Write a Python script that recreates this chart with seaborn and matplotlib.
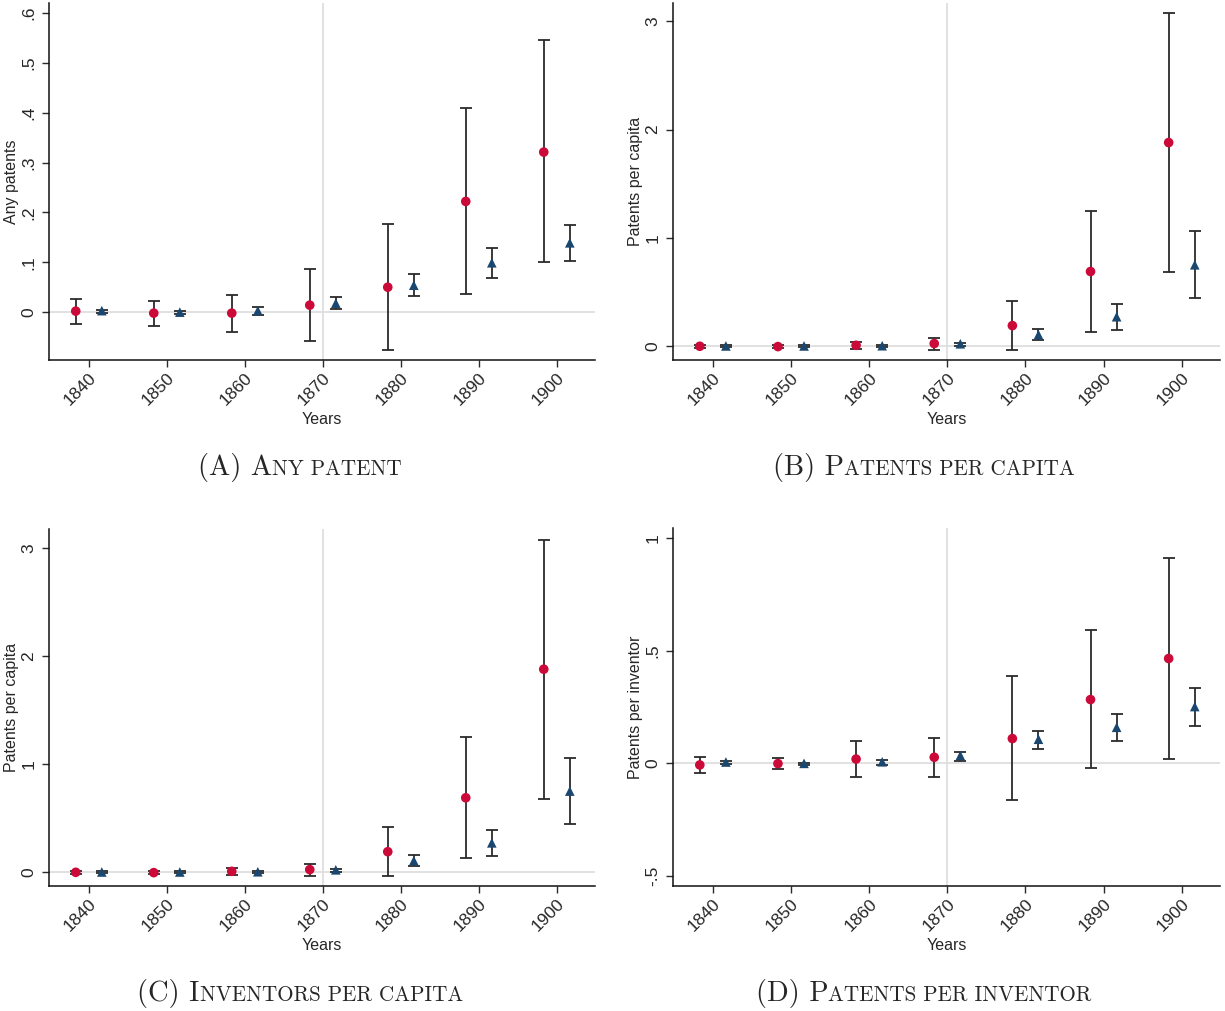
import numpy as np
import pandas as pd
import matplotlib
matplotlib.use("Agg")
import matplotlib.pyplot as plt
from matplotlib.ticker import FuncFormatter
import seaborn as sns

# ---------------- data ----------------
years = [1840, 1850, 1860, 1870, 1880, 1890, 1900]

A_red = [0.002, -0.002, -0.002, 0.014, 0.050, 0.222, 0.321]
A_red_lo = [-0.023, -0.027, -0.039, -0.057, -0.075, 0.036, 0.100]
A_red_hi = [0.027, 0.023, 0.035, 0.087, 0.177, 0.409, 0.545]
A_blue = [0.003, 0.000, 0.003, 0.018, 0.054, 0.099, 0.139]
A_blue_lo = [-0.002, -0.004, -0.005, 0.006, 0.032, 0.069, 0.103]
A_blue_hi = [0.005, 0.002, 0.011, 0.030, 0.077, 0.129, 0.175]

B_red = [-0.003, -0.006, 0.006, 0.022, 0.188, 0.688, 1.88]
B_red_lo = [-0.018, -0.020, -0.025, -0.034, -0.040, 0.127, 0.679]
B_red_hi = [0.012, 0.012, 0.034, 0.071, 0.417, 1.25, 3.08]
B_blue = [0.000, 0.000, 0.002, 0.020, 0.105, 0.270, 0.750]
B_blue_lo = [-0.006, -0.006, -0.008, 0.003, 0.052, 0.148, 0.444]
B_blue_hi = [0.006, 0.006, 0.006, 0.031, 0.160, 0.386, 1.06]

C_red = [-0.003, -0.006, 0.006, 0.022, 0.188, 0.688, 1.88]
C_red_lo = [-0.018, -0.020, -0.025, -0.034, -0.040, 0.127, 0.679]
C_red_hi = [0.012, 0.012, 0.034, 0.071, 0.417, 1.25, 3.08]
C_blue = [0.000, 0.000, 0.002, 0.020, 0.105, 0.270, 0.750]
C_blue_lo = [-0.006, -0.006, -0.008, 0.003, 0.052, 0.148, 0.444]
C_blue_hi = [0.006, 0.006, 0.006, 0.031, 0.160, 0.386, 1.06]

D_red = [-0.007, -0.001, 0.019, 0.027, 0.110, 0.283, 0.465]
D_red_lo = [-0.041, -0.025, -0.061, -0.059, -0.164, -0.021, 0.019]
D_red_hi = [0.028, 0.025, 0.100, 0.113, 0.387, 0.590, 0.910]
D_blue = [0.006, 0.000, 0.007, 0.035, 0.107, 0.160, 0.252]
D_blue_lo = [-0.003, -0.006, -0.009, 0.012, 0.064, 0.098, 0.166]
D_blue_hi = [0.009, 0.002, 0.016, 0.050, 0.145, 0.218, 0.333]

panels = [
    dict(key="A", ylabel="Any patents", red=(A_red, A_red_lo, A_red_hi),
         blue=(A_blue, A_blue_lo, A_blue_hi), ylim=(-0.096, 0.62),
         yticks=[0, 0.1, 0.2, 0.3, 0.4, 0.5, 0.6],
         cap_big="(A) A", cap_small="NY PATENT"),
    dict(key="B", ylabel="Patents per capita", red=(B_red, B_red_lo, B_red_hi),
         blue=(B_blue, B_blue_lo, B_blue_hi), ylim=(-0.13, 3.17),
         yticks=[0, 1, 2, 3], cap_big="(B) P", cap_small="ATENTS PER CAPITA"),
    dict(key="C", ylabel="Patents per capita", red=(C_red, C_red_lo, C_red_hi),
         blue=(C_blue, C_blue_lo, C_blue_hi), ylim=(-0.13, 3.18),
         yticks=[0, 1, 2, 3], cap_big="(C) I", cap_small="NVENTORS PER CAPITA"),
    dict(key="D", ylabel="Patents per inventor", red=(D_red, D_red_lo, D_red_hi),
         blue=(D_blue, D_blue_lo, D_blue_hi), ylim=(-0.544, 1.044),
         yticks=[-0.5, 0, 0.5, 1], cap_big="(D) P", cap_small="ATENTS PER INVENTOR"),
]

RED = "#cc0a3a"
BLUE = "#1a476f"
BAR = "#2b2b2b"
GRID = "#dedede"

sns.set_style("white")
plt.rcParams["font.family"] = ["Liberation Sans", "DejaVu Sans"]

fig = plt.figure(figsize=(12.25, 10.11), dpi=100)

W, H = 1225, 1011
boxes = {
    "A": (49, 3, 595, 360),
    "B": (673, 3, 1220, 360),
    "C": (49, 529, 595, 886),
    "D": (673, 528, 1220, 886),
}
cap_pos = {"A": (0.245, 1 - 475 / H), "B": (0.754, 1 - 475 / H),
           "C": (0.245, 1 - 1001 / H), "D": (0.754, 1 - 1001 / H)}


def stata_fmt(v, pos):
    if abs(v) < 1e-9:
        return "0"
    if abs(v - round(v)) < 1e-9:
        return str(int(round(v)))
    s = ("%g" % v)
    s = s.replace("0.", ".")
    return s


renderer = fig.canvas.get_renderer()

for p in panels:
    x0, y0, x1, y1 = boxes[p["key"]]
    ax = fig.add_axes([x0 / W, 1 - y1 / H, (x1 - x0) / W, (y1 - y0) / H])

    rows = []
    for grp, (v, lo, hi), off in (("red", p["red"], -1.67), ("blue", p["blue"], 1.67)):
        for yr, vv, l, h in zip(years, v, lo, hi):
            rows.append(dict(year=yr, x=yr + off, y=vv, lo=l, hi=h, grp=grp))
    df = pd.DataFrame(rows)

    ax.axhline(0, color=GRID, lw=1.3, zorder=0)
    ax.axvline(1870, color=GRID, lw=1.3, zorder=0)

    for grp in ("red", "blue"):
        d = df[df.grp == grp]
        ax.errorbar(d.x, d.y, yerr=[d.y - d.lo, d.hi - d.y], fmt="none",
                    ecolor=BAR, elinewidth=1.3, capsize=4.3, capthick=1.3, zorder=2)

    sns.scatterplot(data=df, x="x", y="y", hue="grp", style="grp",
                    palette={"red": RED, "blue": BLUE},
                    markers={"red": "o", "blue": "^"},
                    s=48, linewidth=0, legend=False, ax=ax, zorder=3)

    ax.set_xlim(1834.9, 1904.9)
    ax.set_ylim(*p["ylim"])
    ax.set_xticks(years)
    ax.set_yticks(p["yticks"])
    ax.yaxis.set_major_formatter(FuncFormatter(stata_fmt))
    ax.set_xticklabels([str(y) for y in years], rotation=45, ha="right",
                       rotation_mode="anchor")
    for lab in ax.get_yticklabels():
        lab.set_rotation(90)
        lab.set_va("center")
    ax.tick_params(axis="both", which="major", direction="out", length=5,
                   width=1.0, color=BAR, labelsize=12.5, pad=4)
    ax.tick_params(axis="x", pad=2)
    ax.tick_params(left=True, bottom=True)
    ax.set_xlabel("Years", fontsize=11.5, labelpad=3)
    ax.set_ylabel(p["ylabel"], fontsize=11.5, labelpad=2)
    sns.despine(ax=ax, top=True, right=True)
    for sp in ("left", "bottom"):
        ax.spines[sp].set_color("#111111")
        ax.spines[sp].set_linewidth(1.1)

    # caption in small caps (Computer Modern)
    cx, cy = cap_pos[p["key"]]
    t1 = fig.text(0, cy, p["cap_big"], family="cmr10", fontsize=20.5, va="baseline", ha="left")
    t2 = fig.text(0, cy, p["cap_small"], family="cmr10", fontsize=15.2, va="baseline", ha="left")
    w1 = t1.get_window_extent(renderer).width
    w2 = t2.get_window_extent(renderer).width
    total = w1 + w2
    left_px = cx * W - total / 2
    t1.set_x(left_px / W)
    t2.set_x((left_px + w1) / W)

fig.savefig("out.png", dpi=100)
